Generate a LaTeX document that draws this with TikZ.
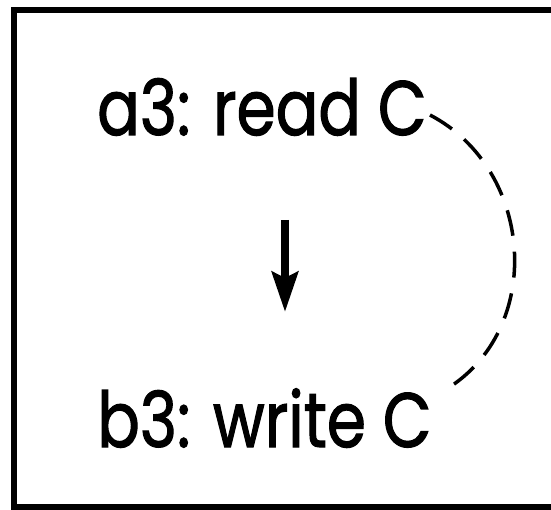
\documentclass[tikz,border=0pt]{standalone}
\usepackage{fontspec}
\newfontfamily\opfont{Poppins}[FakeBold=1.6]
\usetikzlibrary{arrows.meta}
\newcommand{\oplabel}[1]{\scalebox{0.82}[1]{\opfont\fontsize{77}{84}\selectfont #1}}
\tikzset{
  frameline/.style={line width=6pt, line cap=rect},
  label/.style={anchor=base west, inner sep=0pt},
  flow/.style={line width=8pt, -{Stealth[length=40pt,width=26pt,inset=6pt]}},
  conflict/.style={line width=3.5pt, dash pattern=on 26pt off 16pt}
}
\begin{document}
\begin{tikzpicture}[x=1pt,y=-1pt]
  \useasboundingbox (0,0) rectangle (551,510);
  % open frame: top, left and bottom edges
  \draw[frameline] (560,10) -- (14,10) -- (14,507) -- (560,507);
  % the two operations
  \node[label] (a3) at (97,135) {\oplabel{a3: read C}};
  \node[label] (b3) at (97,447) {\oplabel{b3: write C}};
  % program order
  \coordinate (ordtop) at (285,220);
  \coordinate (ordbot) at (285,312);
  \draw[flow] (ordtop) -- (ordbot);
  % conflict edge between the accesses to C
  \coordinate (cA) at (430,115);
  \coordinate (cB) at (445,390);
  \draw[conflict] (cA) .. controls (535,170) and (545,330) .. (cB);
\end{tikzpicture}
\end{document}
